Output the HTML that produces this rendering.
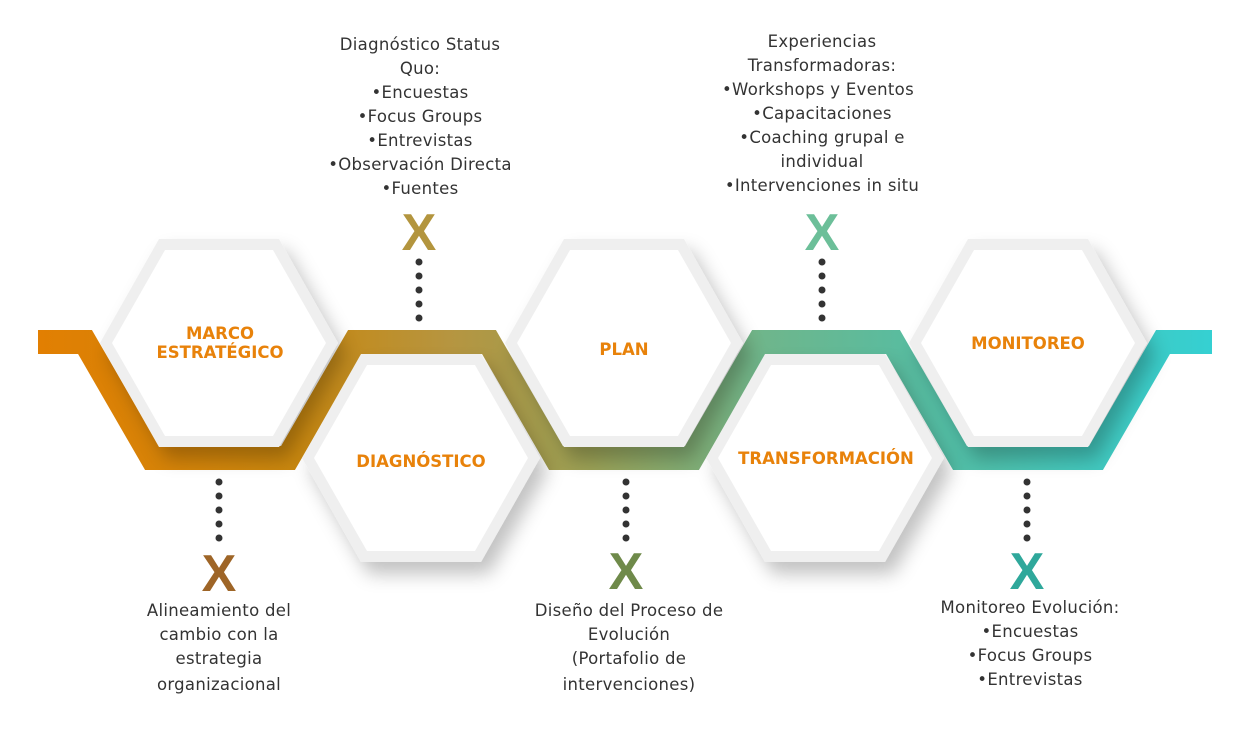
<!DOCTYPE html>
<html><head><meta charset="utf-8"><style>
html,body{margin:0;padding:0;background:#fff;width:1240px;height:752px;overflow:hidden}
svg{display:block}
.t{font-family:"DejaVu Sans","Liberation Sans",sans-serif;font-size:16.5px;letter-spacing:0.3px;fill:#333;text-anchor:middle}
.h{font-family:"DejaVu Sans","Liberation Sans",sans-serif;font-size:16.5px;font-weight:bold;fill:#E8820A;text-anchor:middle}
.x{font-family:"Liberation Sans",sans-serif;font-size:52px;font-weight:bold;text-anchor:middle}
</style></head><body>
<svg width="1240" height="752" viewBox="0 0 1240 752">
<defs>
<linearGradient id="g" x1="38" y1="0" x2="1212" y2="0" gradientUnits="userSpaceOnUse">
<stop offset="0" stop-color="#E27F02"/>
<stop offset="0.22" stop-color="#C8870F"/>
<stop offset="0.35" stop-color="#B69540"/>
<stop offset="0.47" stop-color="#9AA055"/>
<stop offset="0.62" stop-color="#6EB68C"/>
<stop offset="0.78" stop-color="#52BEA6"/>
<stop offset="1" stop-color="#35D0D2"/>
</linearGradient>
<filter id="sh" x="-30%" y="-30%" width="160%" height="170%">
<feDropShadow dx="8" dy="12" stdDeviation="9" flood-color="#000" flood-opacity="0.24"/>
</filter>
<g id="hex"><polygon points="-119,0 -60,-104 60,-104 119,0 60,104 -60,104" fill="#EFEFEF"/><polygon points="-107,0 -54,-93 54,-93 107,0 54,93 -54,93" fill="#fff"/></g>
</defs>
<polyline points="38,342 85,342 152,458 288,458 355,342 489,342 556,458 692,458 759,342 893,342 960,458 1096,458 1163,342 1212,342" fill="none" stroke="url(#g)" stroke-width="24" stroke-linejoin="miter"/>
<g filter="url(#sh)">
<use href="#hex" x="219" y="343"/>
<use href="#hex" x="421" y="458"/>
<use href="#hex" x="624" y="343"/>
<use href="#hex" x="825" y="458"/>
<use href="#hex" x="1028" y="343"/>
</g>
<text class="h" x="220" y="339">MARCO</text>
<text class="h" x="220" y="358">ESTRATÉGICO</text>
<text class="h" x="421" y="467">DIAGNÓSTICO</text>
<text class="h" x="624" y="355">PLAN</text>
<text class="h" x="826" y="464">TRANSFORMACIÓN</text>
<text class="h" x="1028" y="349">MONITOREO</text>
<g fill="#333">
<circle cx="419" cy="262" r="3.5"/><circle cx="419" cy="276" r="3.5"/><circle cx="419" cy="290" r="3.5"/><circle cx="419" cy="304" r="3.5"/><circle cx="419" cy="318" r="3.5"/>
<circle cx="822" cy="262" r="3.5"/><circle cx="822" cy="276" r="3.5"/><circle cx="822" cy="290" r="3.5"/><circle cx="822" cy="304" r="3.5"/><circle cx="822" cy="318" r="3.5"/>
<circle cx="219" cy="482" r="3.5"/><circle cx="219" cy="496" r="3.5"/><circle cx="219" cy="510" r="3.5"/><circle cx="219" cy="524" r="3.5"/><circle cx="219" cy="538" r="3.5"/>
<circle cx="626" cy="482" r="3.5"/><circle cx="626" cy="496" r="3.5"/><circle cx="626" cy="510" r="3.5"/><circle cx="626" cy="524" r="3.5"/><circle cx="626" cy="538" r="3.5"/>
<circle cx="1027" cy="482" r="3.5"/><circle cx="1027" cy="496" r="3.5"/><circle cx="1027" cy="510" r="3.5"/><circle cx="1027" cy="524" r="3.5"/><circle cx="1027" cy="538" r="3.5"/>
</g>
<text class="x" x="419" y="250" fill="#B3953E">X</text>
<text class="x" x="822" y="250" fill="#6CBF99">X</text>
<text class="x" x="219" y="591" fill="#9E6527">X</text>
<text class="x" x="626" y="589" fill="#6F8A4A">X</text>
<text class="x" x="1027" y="589" fill="#2FA89B">X</text>
<text class="t" x="420" y="50">Diagnóstico Status</text>
<text class="t" x="420" y="74">Quo:</text>
<text class="t" x="420" y="98">•Encuestas</text>
<text class="t" x="420" y="122">•Focus Groups</text>
<text class="t" x="420" y="146">•Entrevistas</text>
<text class="t" x="420" y="170">•Observación Directa</text>
<text class="t" x="420" y="194">•Fuentes</text>
<text class="t" x="822" y="47">Experiencias</text>
<text class="t" x="822" y="71">Transformadoras:</text>
<text class="t" x="818" y="95">•Workshops y Eventos</text>
<text class="t" x="822" y="119">•Capacitaciones</text>
<text class="t" x="822" y="143">•Coaching grupal e</text>
<text class="t" x="822" y="167">individual</text>
<text class="t" x="822" y="191">•Intervenciones in situ</text>
<text class="t" x="219" y="616">Alineamiento del</text>
<text class="t" x="219" y="640">cambio con la</text>
<text class="t" x="219" y="664">estrategia</text>
<text class="t" x="219" y="690">organizacional</text>
<text class="t" x="629" y="616">Diseño del Proceso de</text>
<text class="t" x="629" y="640">Evolución</text>
<text class="t" x="629" y="664">(Portafolio de</text>
<text class="t" x="629" y="690">intervenciones)</text>
<text class="t" x="1030" y="613">Monitoreo Evolución:</text>
<text class="t" x="1030" y="637">•Encuestas</text>
<text class="t" x="1030" y="661">•Focus Groups</text>
<text class="t" x="1030" y="685">•Entrevistas</text>
</svg>
</body></html>
